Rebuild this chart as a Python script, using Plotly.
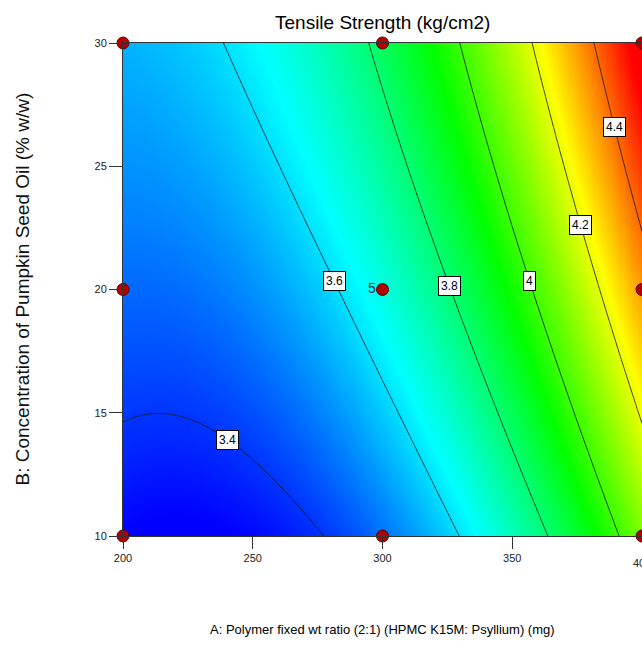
import numpy as np
import plotly.graph_objects as go

# ---- data -------------------------------------------------------------
A_levels = [200, 300, 400]          # A: polymer (mg)
B_levels = [10, 20, 30]             # B: pumpkin seed oil (% w/w)
# Tensile strength (kg/cm2) at the design points: rows = B levels, cols = A levels
TS_design = [
    [3.338, 3.471, 4.072],
    [3.462, 3.668, 4.342],
    [3.547, 3.827, 4.573],
]
center_reps = 5
contour_levels = [3.4, 3.6, 3.8, 4.0, 4.2, 4.4]
level_labels = ["3.4", "3.6", "3.8", "4", "4.2", "4.4"]
x_ticks = [200, 250, 300, 350, 400]
y_ticks = [10, 15, 20, 25, 30]

# ---- response-surface model (quadratic, least squares on design points) -
def terms(u, v):
    return np.stack([np.ones_like(u), u, v, u * v, u * u, v * v], axis=-1)

AA, BB = np.meshgrid(A_levels, B_levels)
u_d = (AA.ravel() - 300) / 100.0
v_d = (BB.ravel() - 20) / 10.0
coef, *_ = np.linalg.lstsq(terms(u_d, v_d), np.array(TS_design).ravel(), rcond=None)

def model(a, b):
    a = np.asarray(a, float); b = np.asarray(b, float)
    return terms((a - 300) / 100.0, (b - 20) / 10.0) @ coef

gx = np.linspace(min(A_levels), max(A_levels), 241)
gy = np.linspace(min(B_levels), max(B_levels), 241)
GX, GY = np.meshgrid(gx, gy)
GZ = model(GX, GY)

colorscale = [[0.0, 'rgb(0,0,255)'], [0.25, 'rgb(0,255,255)'], [0.5, 'rgb(0,255,0)'],
              [0.75, 'rgb(255,255,0)'], [1.0, 'rgb(255,0,0)']]

SANS = "Liberation Sans, Arial, sans-serif"

fig = go.Figure()
fig.add_trace(go.Contour(
    x=gx, y=gy, z=GZ, colorscale=colorscale, showscale=False,
    zmin=3.34, zmax=4.52,
    contours=dict(start=contour_levels[0], end=contour_levels[-1],
                  size=round(contour_levels[1] - contour_levels[0], 3),
                  coloring='heatmap', showlabels=False),
    line=dict(color='rgba(20,20,20,0.9)', width=0.9, smoothing=1.0),
    hoverinfo='skip'))

# design points
fig.add_trace(go.Scatter(
    x=AA.ravel(), y=BB.ravel(), mode='markers', cliponaxis=False,
    marker=dict(size=12, color='#b30000', line=dict(color='#5a0000', width=1)),
    hoverinfo='skip'))

# contour labels (boxed), placed on the contour at a chosen B height
label_B = [13.9, 20.35, 20.15, 20.35, 22.6, 26.6]
for lv, txt, bpos in zip(contour_levels, level_labels, label_B):
    aa = np.linspace(200, 400, 4001)
    zz = model(aa, np.full_like(aa, bpos)) - lv
    idx = np.where(np.sign(zz[:-1]) != np.sign(zz[1:]))[0]
    if len(idx) == 0:
        continue
    i = idx[-1]
    a0 = aa[i] - zz[i] * (aa[i + 1] - aa[i]) / (zz[i + 1] - zz[i])
    fig.add_annotation(x=a0, y=bpos, text=txt, showarrow=False,
                       font=dict(family=SANS, size=12, color='black'),
                       bgcolor='white', bordercolor='black', borderwidth=1, borderpad=2)

# replicate count at the centre point
fig.add_annotation(x=A_levels[1], y=B_levels[1], text=str(center_reps), showarrow=False,
                   xshift=-11, yshift=2, font=dict(family=SANS, size=14, color='#203040'))

# last x tick label (partly outside the window, like the reference)
fig.add_annotation(x=x_ticks[-1], y=0, xref='x', yref='paper', yshift=-27,
                   text=str(x_ticks[-1]), showarrow=False, xanchor='center', yanchor='middle',
                   font=dict(family=SANS, size=11, color='#222'))

# titles
fig.add_annotation(text="Tensile Strength (kg/cm2)", xref='paper', yref='paper',
                   x=0.5, y=1, yshift=21, showarrow=False, xanchor='center', yanchor='middle',
                   font=dict(family=SANS, size=19, color='black'))
fig.add_annotation(text="A: Polymer fixed wt ratio (2:1) (HPMC K15M: Psyllium) (mg)",
                   xref='paper', yref='paper', x=0.5, y=0, yshift=-93, showarrow=False,
                   xanchor='center', yanchor='middle',
                   font=dict(family=SANS, size=13, color='black'))
fig.add_annotation(text="B: Concentration of Pumpkin Seed Oil (% w/w)",
                   xref='paper', yref='paper', x=0, y=0.5, xshift=-101, showarrow=False,
                   textangle=-90, xanchor='center', yanchor='middle',
                   font=dict(family=SANS, size=19, color='#111'))

fig.update_layout(
    width=642, height=646, paper_bgcolor='white', plot_bgcolor='white',
    margin=dict(l=123, r=0, t=43, b=110), showlegend=False,
    xaxis=dict(range=[200, 400], tickvals=x_ticks, ticks='outside', ticklen=12,
               tickcolor='#333', showline=True, mirror=True, linecolor='#333', linewidth=1,
               showgrid=False, zeroline=False,
               tickfont=dict(family=SANS, size=11, color='#222')),
    yaxis=dict(range=[10, 30], tickvals=y_ticks, ticks='outside', ticklen=13,
               tickcolor='#333', showline=True, mirror=True, linecolor='#333', linewidth=1,
               showgrid=False, zeroline=False,
               tickfont=dict(family=SANS, size=11, color='#222')),
)

fig.write_html("out.html", config={'displayModeBar': False},
               post_script="document.body.style.margin='0';document.body.style.overflow='hidden';")
